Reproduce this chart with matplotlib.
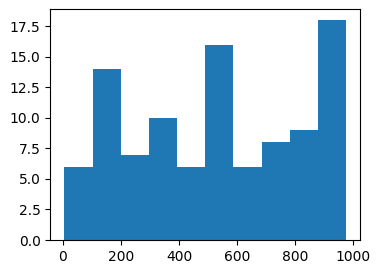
import matplotlib
matplotlib.use("Agg")
import matplotlib.pyplot as plt
import numpy as np

# histogram: 10 equal bins
data_min = 5.0
data_max = 976.0
counts = [6, 14, 7, 10, 6, 16, 6, 8, 9, 18]

edges = np.linspace(data_min, data_max, len(counts) + 1)

fig = plt.figure(figsize=(3.77, 2.74), dpi=100)
ax = fig.add_axes([50.3 / 377, 34 / 274, 310 / 377, 230.7 / 274])
ax.hist(edges[:-1], bins=edges, weights=counts, color="#1f77b4")

fig.savefig("out.png", dpi=100)
